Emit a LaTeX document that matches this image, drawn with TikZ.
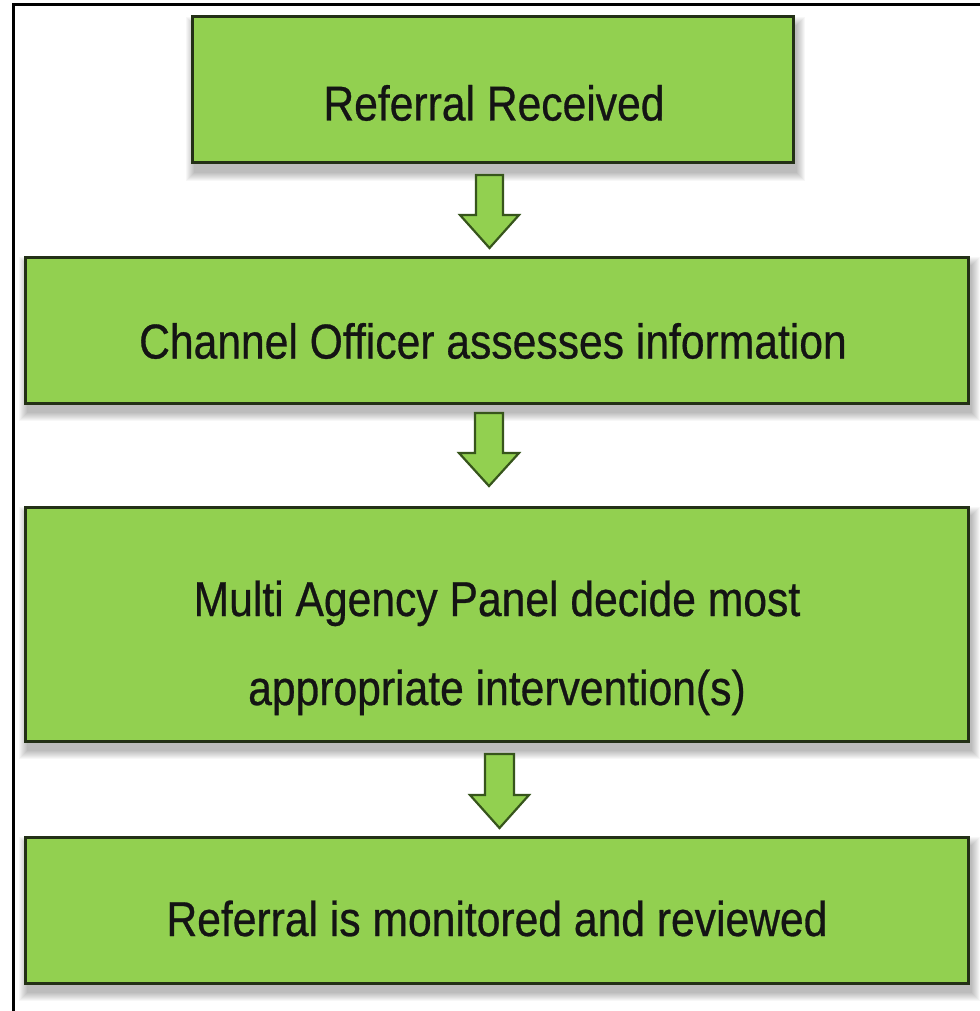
\documentclass[tikz,border=0pt]{standalone}
\usepackage{fontspec}
\setmainfont{Liberation Sans}[FakeStretch=0.87,FakeBold=0.6]
\definecolor{boxgreen}{RGB}{146,208,80}
\definecolor{boxedge}{RGB}{35,48,22}
\definecolor{arrowedge}{RGB}{55,85,28}
\tikzset{
  boxstyle/.style={draw=boxedge, line width=3pt, fill=boxgreen},
  labelstyle/.style={inner sep=0pt, anchor=base, font=\fontsize{49}{80}\selectfont, text=black!92, align=center},
  blockarrow/.style={draw=arrowedge, line width=2.2pt, fill=boxgreen, line join=miter},
  framestyle/.style={draw=black, line width=3pt}
}
\begin{document}
\begin{tikzpicture}[x=1pt,y=-1pt]
\useasboundingbox (0,0) rectangle (979,1011);
\fill[white] (0,0) rectangle (979,1011);
% outer frame
\draw[framestyle] (13,1013) -- (13,5) -- (981,5);
% soft shadows
\foreach \xa/\ya/\xb/\yb in {192/17/793/163, 25/257/968/403, 25/507/968/741, 25/837/968/983} {
  \foreach \r in {1,...,9} {
    \fill[black, opacity=0.03] (\xa+3-\r,\ya+9-\r) rectangle (\xb+3+\r,\yb+9+\r);
  }
}
% boxes
\node[boxstyle, minimum width=601pt, minimum height=146pt, inner sep=0pt] (b1) at (492.5,90) {};
\node[boxstyle, minimum width=943pt, minimum height=146pt, inner sep=0pt] (b2) at (496.5,330) {};
\node[boxstyle, minimum width=943pt, minimum height=234pt, inner sep=0pt] (b3) at (496.5,624) {};
\node[boxstyle, minimum width=943pt, minimum height=146pt, inner sep=0pt] (b4) at (496.5,910) {};
% texts
\node[labelstyle] (t1) at (494,120.5) {Referral Received};
\node[labelstyle] (t2) at (493,358.5) {Channel Officer assesses information};
\node[labelstyle] (t3a) at (497,616) {Multi Agency Panel decide most};
\node[labelstyle] (t3b) at (497,705) {appropriate intervention(s)};
\node[labelstyle] (t4) at (497,936) {Referral is monitored and reviewed};
% block arrows
\draw[blockarrow] (476,175) -- (503,175) -- (503,215) -- (519,215) -- (489.5,248) -- (460,215) -- (476,215) -- cycle;
\draw[blockarrow] (475,413) -- (503,413) -- (503,453) -- (519,453) -- (489,486) -- (459,453) -- (475,453) -- cycle;
\draw[blockarrow] (485,754) -- (514,754) -- (514,795) -- (529,795) -- (499.5,828) -- (470,795) -- (485,795) -- cycle;
\end{tikzpicture}
\end{document}
